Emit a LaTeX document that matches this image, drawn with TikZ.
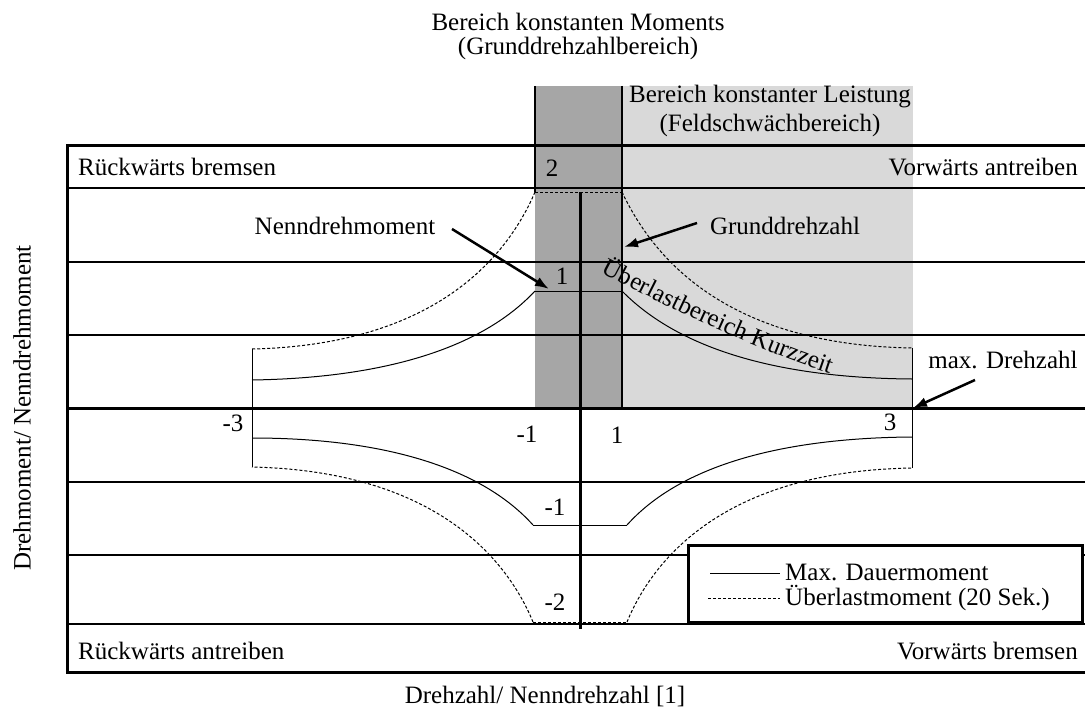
\documentclass[tikz,border=0pt]{standalone}
\usepackage{fontspec}
\setmainfont{Liberation Serif}
\usetikzlibrary{arrows.meta,decorations.text}
\definecolor{bandDark}{HTML}{A6A6A6}
\definecolor{bandLight}{HTML}{D9D9D9}
\begin{document}
\begin{tikzpicture}[x=1pt,y=-1pt,
  lbl/.style={font=\fontsize{25}{28}\selectfont, inner sep=0pt},
  gridline/.style={line width=1.3pt},
  heavy/.style={line width=3pt},
  cont/.style={line width=1pt},
  over/.style={line width=1pt, dash pattern=on 3pt off 2pt},
  pointer/.style={line width=2.5pt, -{Latex[length=14pt,width=10pt]}}]
\useasboundingbox (0,0) rectangle (1085,709);

% operating ranges
\fill[bandDark] (535,86) rectangle (622,408);
\fill[bandLight] (622,86) rectangle (913,408);

% quadrant grid and frame
\foreach \yy in {188,262,335,482,555,624}
  \draw[gridline] (67,\yy) -- (1090,\yy);
\draw[heavy] (67,408) -- (1090,408);
\draw[heavy] (1090,145) -- (67,145) -- (67,672) -- (1090,672);

% range borders and torque axis
\draw[line width=2pt] (535,86) -- (535,192);
\draw[line width=2.5pt] (622,86) -- (622,408);
\draw[heavy] (580,192) -- (580,629);

% continuous torque limit
\draw[cont] (535,291) -- (622,291);
\draw[cont] (622,291) .. controls (680,350) and (780,378) .. (912,379);
\draw[cont] (535,291) .. controls (480,350) and (380,378) .. (252,380);
\draw[cont] (533,525) -- (627,525);
\draw[cont] (627,525) .. controls (680,466) and (780,438) .. (912,437);
\draw[cont] (533,525) .. controls (480,466) and (380,438) .. (252,438);

% overload torque limit
\draw[over] (535,192) -- (622,192);
\draw[over] (622,192) .. controls (655,262) and (730,345) .. (912,348);
\draw[over] (535,192) .. controls (505,262) and (430,345) .. (252,349);
\draw[over] (533,622) -- (627,622);
\draw[over] (627,622) .. controls (655,554) and (730,471) .. (912,468);
\draw[over] (533,622) .. controls (505,554) and (430,471) .. (252,467);

% speed limits
\draw[cont] (252,349) -- (252,467);
\draw[cont] (912,348) -- (912,468);

% curved label along the overload region
\path[decorate, decoration={text along path, text align=left,
  text={|\fontsize{25}{28}\selectfont|Überlastbereich Kurzzeit}}]
  (601,272) .. controls (680,314) and (770,356) .. (850,380);

% titles
\node[lbl] (t1) at (578,22) {Bereich konstanten Moments};
\node[lbl] (t2) at (578,48) {(Grunddrehzahlbereich)};
\node[lbl] (t3) at (770,97) {Bereich konstanter Leistung};
\node[lbl] (t4) at (770,125) {(Feldschwächbereich)};

% quadrant names
\node[lbl, anchor=west] (q1) at (78,167) {Rückwärts bremsen};
\node[lbl, anchor=east] (q2) at (1078,167) {Vorwärts antreiben};
\node[lbl, anchor=west] (q3) at (78,651) {Rückwärts antreiben};
\node[lbl, anchor=east] (q4) at (1078,651) {Vorwärts bremsen};

% scale values
\node[lbl] (v2) at (552,168) {2};
\node[lbl] (v1) at (562,276) {1};
\node[lbl] (vm3) at (233,423) {-3};
\node[lbl] (vm1x) at (527,434) {-1};
\node[lbl] (v1x) at (617,435) {1};
\node[lbl] (v3) at (890,422) {3};
\node[lbl] (vm1) at (555,507) {-1};
\node[lbl] (vm2) at (555,602) {-2};

% annotations with pointers
\node[lbl] (nenn) at (345,226) {Nenndrehmoment};
\coordinate (nennTail) at (452,229);
\coordinate (nennTip) at (549,289);
\draw[pointer] (nennTail) -- (nennTip);

\node[lbl] (grund) at (785,226) {Grunddrehzahl};
\coordinate (grundTail) at (697,223);
\coordinate (grundTip) at (624,247);
\draw[pointer] (grundTail) -- (grundTip);

\node[lbl] (maxn) at (1003,360) {max. Drehzahl};
\coordinate (maxTail) at (975,380);
\coordinate (maxTip) at (913,408);
\draw[pointer] (maxTail) -- (maxTip);

% axis titles
\node[lbl] (xlab) at (545,696) {Drehzahl/ Nenndrehzahl [1]};
\node[lbl, rotate=90] (ylab) at (22,408) {Drehmoment/ Nenndrehmoment};

% legend
\draw[heavy, fill=white] (688,545) rectangle (1082,622);
\draw[cont] (710,573) -- (780,573);
\draw[over] (708,598) -- (780,598);
\node[lbl, anchor=west] (leg1) at (785,572) {Max. Dauermoment};
\node[lbl, anchor=west] (leg2) at (785,598) {Überlastmoment (20 Sek.)};
\end{tikzpicture}
\end{document}
